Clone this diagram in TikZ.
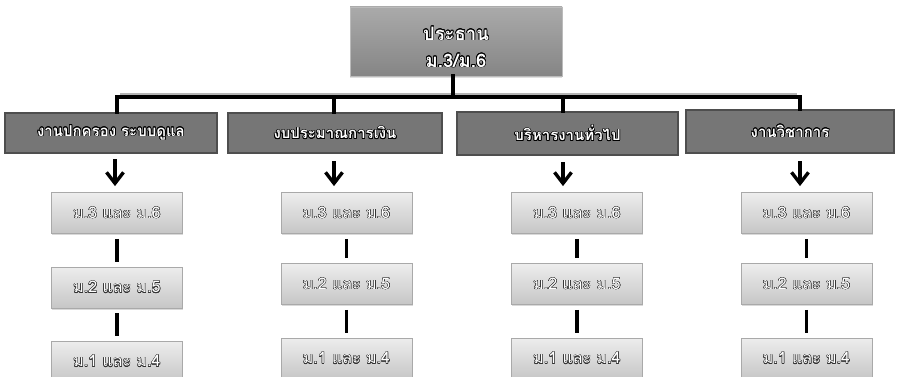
\documentclass[tikz,border=0pt]{standalone}
\usepackage{fontspec}
\newfontfamily\thaifont[Script=Thai]{Loma}
\usepackage[copies]{contour}
\usetikzlibrary{arrows.meta,shadows}
\definecolor{topA}{HTML}{AAAAAA}
\definecolor{topB}{HTML}{858585}
\definecolor{midfill}{HTML}{767676}
\definecolor{midline}{HTML}{4E4E4E}
\definecolor{lowA}{HTML}{EDEDED}
\definecolor{lowB}{HTML}{C6C6C6}
\definecolor{lowline}{HTML}{A9A9A9}
\definecolor{lowtxt}{HTML}{333333}
\definecolor{busshade}{HTML}{B4B4B4}
\newcommand{\outw}[1]{\contourlength{0.7pt}\textcolor{white}{\contour{black}{#1}}}
\newcommand{\outl}[1]{\contourlength{0.42pt}\textcolor{white}{\contour{lowtxt}{#1}}}
\tikzset{
  chief/.style={minimum width=212pt, minimum height=69pt, inner sep=0pt,
    top color=topA, bottom color=topB, draw=topA!80!white, line width=0.6pt,
    drop shadow={opacity=0.25, shadow xshift=0pt, shadow yshift=-2pt},
    font=\thaifont\bfseries\fontsize{18.5}{30}\selectfont, align=center},
  dept/.style={inner sep=0pt, fill=midfill, draw=midline, line width=2.6pt,
    font=\thaifont\bfseries\fontsize{15}{18}\selectfont},
  grade/.style={minimum width=131pt, minimum height=41pt, inner sep=0pt,
    top color=lowA, bottom color=lowB, draw=lowline, line width=0.8pt,
    drop shadow={opacity=0.3, shadow xshift=0.5pt, shadow yshift=-1.5pt},
    font=\thaifont\fontsize{16}{18}\selectfont},
  bus/.style={line width=4pt, line cap=rect},
  busshadow/.style={line width=2pt, draw=busshade},
  link/.style={line width=3.8pt, shorten <=5pt, shorten >=5pt},
  arr/.style={line width=3.4pt, -{Straight Barb[length=11pt,width=17pt,line width=3.4pt]}}
}
\begin{document}
\begin{tikzpicture}[x=1pt,y=-1pt]
\useasboundingbox (0,0) rectangle (897,377);
\clip (0,0) rectangle (897,377);
% top
\node[chief] (boss) at (456,41.5) {\rule{0pt}{25pt}\outw{ประธาน}\\[-3pt]\outw{ม.3/ม.6}};
% departments
\node[dept, minimum width=212pt, minimum height=40pt] (d1) at (111,133) {\outw{งานปกครอง ระบบดูแล}};
\node[dept, minimum width=214pt, minimum height=40pt] (d2) at (335,133) {\outw{งบประมาณการเงิน}};
\node[dept, minimum width=221pt, minimum height=43pt] (d3) at (567.5,133.5) {\outw{บริหารงานทั่วไป}};
\node[dept, minimum width=208pt, minimum height=43pt] (d4) at (790,131.5) {\outw{งานวิชาการ}};
% drop points
\coordinate (bus) at (453,97);
\coordinate (x1) at (117,97);
\coordinate (x2) at (334,97);
\coordinate (x3) at (563,97);
\coordinate (x4) at (800,97);
\coordinate (a1) at (115,97);
\draw[busshadow] ([xshift=3pt,yshift=3pt]x1) -- ([xshift=-3pt,yshift=3pt]x4);
\draw[bus] (boss.south -| bus) -- (bus);
\draw[bus] (x1 |- d1.north) -- (x1) -- (x4) -- (x4 |- d4.north);
\draw[bus] (x2) -- (x2 |- d2.north);
\draw[bus] (x3) -- (x3 |- d3.north);
% grade boxes
\foreach \c/\x/\ya/\yb/\yc in {1/117/213/287.5/361.5, 2/346.5/213/284/358.5, 3/577/213/284/358.5, 4/806.5/213/284/358.5}{
  \node[grade] (g\c a) at (\x,\ya) {\outl{ม.3 และ ม.6}};
  \node[grade] (g\c b) at (\x,\yb) {\outl{ม.2 และ ม.5}};
  \node[grade] (g\c c) at (\x,\yc) {\outl{ม.1 และ ม.4}};
}
% arrows
\draw[arr] ([yshift=-5pt]a1 |- d1.south) -- ([yshift=6pt]a1 |- g1a.north);
\draw[arr] ([yshift=-7pt]x2 |- d2.south) -- ([yshift=6pt]x2 |- g2a.north);
\draw[arr] ([yshift=-6pt]x3 |- d3.south) -- ([yshift=6pt]x3 |- g3a.north);
\draw[arr] ([yshift=-7pt]x4 |- d4.south) -- ([yshift=6pt]x4 |- g4a.north);
% links
\foreach \c in {1,2,3,4}{
  \draw[link] (g\c a) -- (g\c b);
  \draw[link] (g\c b) -- (g\c c);
}
\end{tikzpicture}
\end{document}
